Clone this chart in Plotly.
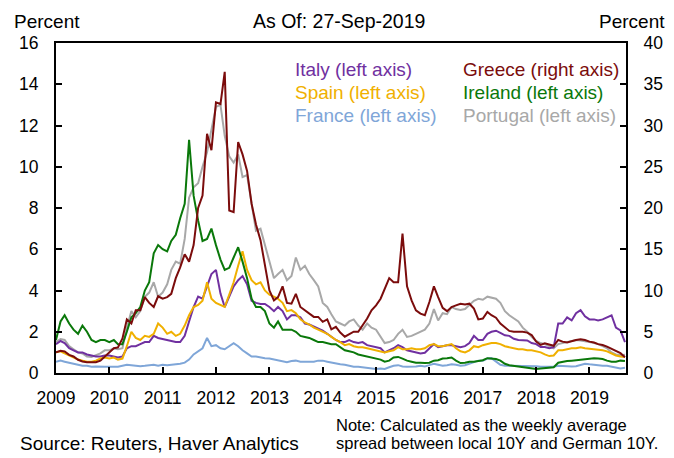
import pandas as pd
import plotly.graph_objects as go

# Monthly readings (first of month), Jan-2009 .. Sep-2019
dates = pd.date_range("2009-01-01", "2019-09-01", freq="MS")

italy = [
    1.4, 1.55, 1.45, 1.2, 1.1, 1.0, 1.0, 0.9, 0.85, 0.8, 0.8, 0.85,
    0.85, 0.8, 0.75, 0.8, 1.2, 1.3, 1.3, 1.4, 1.5, 1.5, 1.8, 1.7,
    1.65, 1.6, 1.55, 1.5, 1.5, 1.8, 2.5, 3.2, 3.7, 3.6, 4.2, 4.8,
    5.0, 3.85, 3.2, 3.7, 4.2, 4.5, 4.7, 4.3, 3.5, 3.4, 3.35, 3.35,
    3.2, 3.0, 3.2, 3.0, 2.6, 2.8, 2.8, 2.7, 2.4, 2.35, 2.25, 2.15,
    2.05, 1.9, 1.75, 1.6, 1.5, 1.5, 1.6, 1.5, 1.45, 1.5, 1.35, 1.3,
    1.25, 1.2, 1.0, 1.1, 1.2, 1.35, 1.25, 1.1, 1.05, 1.0, 0.95, 0.98,
    1.2, 1.4, 1.25, 1.3, 1.35, 1.35, 1.3, 1.25, 1.3, 1.45, 1.8, 1.6,
    1.6, 1.9, 2.0, 2.05, 1.95, 1.83, 1.8, 1.66, 1.6, 1.58, 1.58, 1.45,
    1.4, 1.26, 1.26, 1.2, 1.25, 2.4, 2.4, 2.7, 2.55, 2.9, 3.05, 2.75,
    2.6, 2.6, 2.55, 2.6, 2.7, 2.8, 2.2, 2.07, 1.5,
]

spain = [
    1.0, 1.05, 0.95, 0.85, 0.75, 0.65, 0.6, 0.55, 0.55, 0.6, 0.7, 0.75,
    0.7, 0.75, 0.65, 0.7, 1.3, 2.0, 1.7, 1.6, 1.8, 1.75, 1.9, 2.4,
    2.2, 1.9, 2.0, 1.8, 1.9, 2.3, 2.8, 3.2, 3.3, 3.5, 4.4, 3.6,
    3.4, 3.3, 3.2, 3.8, 4.4, 5.2, 5.9, 5.0, 4.5, 4.3, 4.4, 4.0,
    3.8, 3.7, 3.6, 3.4, 3.0, 3.05, 2.9, 2.6, 2.45, 2.35, 2.2, 2.1,
    2.0, 1.9, 1.75, 1.6, 1.5, 1.35, 1.4, 1.3, 1.25, 1.25, 1.2, 1.15,
    1.1, 1.05, 1.0, 1.05, 1.1, 1.25, 1.15, 1.15, 1.2, 1.15, 1.15, 1.2,
    1.35, 1.4, 1.3, 1.3, 1.35, 1.4, 1.2, 1.05, 1.0, 1.1, 1.3, 1.25,
    1.35, 1.4, 1.45, 1.45, 1.4, 1.3, 1.25, 1.2, 1.15, 1.15, 1.1, 1.1,
    1.05, 1.0, 0.9, 0.82, 0.85, 1.1, 1.1, 1.15, 1.2, 1.2, 1.25, 1.2,
    1.18, 1.15, 1.12, 1.1, 1.05, 0.95, 0.85, 0.8, 0.78,
]

france = [
    0.55, 0.6, 0.55, 0.5, 0.45, 0.4, 0.35, 0.35, 0.3, 0.32, 0.3, 0.3,
    0.3, 0.3, 0.3, 0.35, 0.4, 0.38, 0.35, 0.33, 0.35, 0.38, 0.4, 0.35,
    0.4, 0.38, 0.4, 0.42, 0.45, 0.5, 0.65, 0.9, 1.05, 1.2, 1.7, 1.3,
    1.35, 1.2, 1.15, 1.3, 1.45, 1.3, 1.1, 0.95, 0.8, 0.8, 0.75, 0.72,
    0.7, 0.65, 0.62, 0.55, 0.52, 0.58, 0.6, 0.55, 0.55, 0.58, 0.55, 0.6,
    0.6, 0.55, 0.5, 0.48, 0.42, 0.4, 0.35, 0.3, 0.3, 0.28, 0.25, 0.22,
    0.2, 0.22, 0.2, 0.28, 0.35, 0.38, 0.32, 0.3, 0.3, 0.32, 0.35, 0.32,
    0.38, 0.45, 0.4, 0.35, 0.38, 0.42, 0.4, 0.35, 0.38, 0.45, 0.55, 0.6,
    0.6, 0.7, 0.72, 0.55, 0.4, 0.35, 0.35, 0.35, 0.33, 0.33, 0.33, 0.35,
    0.33, 0.3, 0.3, 0.28, 0.3, 0.35, 0.33, 0.32, 0.32, 0.33, 0.38, 0.45,
    0.42, 0.4, 0.35, 0.35, 0.35, 0.3, 0.25, 0.22, 0.25,
]

ireland = [
    1.6, 2.5, 2.8, 2.4, 2.1, 1.9, 2.3, 2.0, 1.6, 1.5, 1.6, 1.6,
    1.5, 1.6, 1.4, 1.4, 2.0, 2.7, 2.9, 3.2, 4.0, 4.4, 5.8, 6.2,
    6.0, 5.9, 6.4, 6.7, 7.5, 8.2, 11.3, 8.6, 7.4, 6.4, 6.5, 7.0,
    6.2, 5.5, 5.0, 5.1, 5.6, 6.1, 5.4, 4.6, 3.6, 3.2, 3.2, 3.0,
    2.4, 2.2, 2.5, 2.1, 2.1, 2.1, 2.0, 1.8, 1.75, 1.7, 1.6, 1.5,
    1.5, 1.45, 1.4, 1.4, 1.25, 1.1, 1.05, 1.0, 0.9, 0.85, 0.8, 0.75,
    0.7, 0.65, 0.55, 0.6, 0.75, 0.78, 0.7, 0.6, 0.55, 0.5, 0.5, 0.48,
    0.5, 0.6, 0.62, 0.7, 0.72, 0.75, 0.6, 0.48, 0.5, 0.55, 0.55, 0.6,
    0.62, 0.72, 0.7, 0.68, 0.6, 0.45, 0.38, 0.35, 0.3, 0.28, 0.25, 0.22,
    0.2, 0.22, 0.25, 0.25, 0.28, 0.5, 0.55, 0.58, 0.6, 0.62, 0.65, 0.68,
    0.7, 0.72, 0.7, 0.68, 0.6, 0.55, 0.55, 0.6, 0.58,
]

portugal = [
    1.5, 1.65, 1.6, 1.3, 1.15, 1.0, 0.95, 0.8, 0.78, 0.85, 0.95, 1.1,
    1.1, 1.2, 1.15, 1.2, 2.2, 3.0, 2.7, 3.0, 3.7, 3.9, 4.4, 3.7,
    3.9, 4.3, 5.0, 5.4, 5.3, 6.5, 8.5, 9.0, 9.2, 10.0, 10.7, 11.8,
    12.9, 13.0, 11.5, 10.5, 10.2, 10.6, 9.5, 9.6, 8.3, 6.9, 7.0, 6.2,
    5.5, 4.6, 4.8, 5.0, 4.5, 4.7, 5.6, 5.0, 5.2, 4.8, 4.5, 4.2,
    3.4, 3.2, 2.85, 2.5, 2.4, 2.3, 2.5, 2.6, 2.3, 2.1, 2.4, 2.2,
    2.1, 1.75, 1.45, 1.5, 1.6, 1.9, 2.1, 1.75, 1.8, 1.9, 2.0, 2.1,
    2.4, 3.1, 2.55, 2.9, 2.85, 3.2, 3.1, 3.05, 3.1, 3.3, 3.5, 3.6,
    3.55, 3.7, 3.65, 3.6, 3.4, 3.0, 2.8, 2.65, 2.5, 2.2, 2.0, 1.75,
    1.55, 1.45, 1.4, 1.3, 1.2, 1.4, 1.45, 1.5, 1.55, 1.6, 1.58, 1.55,
    1.5, 1.45, 1.4, 1.3, 1.2, 1.0, 0.9, 0.86, 0.88,
]

greece = [
    2.5, 2.7, 2.6, 2.2, 2.0, 1.6, 1.4, 1.3, 1.3, 1.3, 1.5, 2.0,
    2.6, 3.0, 3.1, 4.2, 6.5, 6.0, 7.6, 7.6, 9.2, 8.5, 8.0, 9.3,
    9.0, 9.2, 9.6, 11.5, 12.8, 14.4, 13.5, 15.5, 20.0, 21.5, 29.0, 27.0,
    32.8, 32.6, 36.5, 19.7, 19.5, 28.0, 26.5, 24.5, 20.5, 18.0, 16.1, 13.0,
    10.0, 8.8, 9.2, 10.5, 8.5, 8.4, 9.6, 8.0, 7.6, 7.2, 6.8, 6.8,
    6.2, 6.5, 5.3, 5.6, 4.9, 4.4, 4.7, 5.0, 5.0, 5.8, 6.6, 7.6,
    8.2, 9.0, 10.2, 11.5, 11.0, 11.0, 16.9, 10.5, 8.8, 7.6, 7.2, 7.0,
    8.6, 10.5, 9.2, 7.9, 7.5, 8.0, 8.2, 8.4, 8.3, 8.4, 7.8, 6.5,
    6.6, 7.4, 7.0, 6.7, 6.0, 5.5, 5.1, 5.0, 5.0, 5.0, 4.9, 4.6,
    3.8, 3.4, 3.6, 3.4, 3.3, 4.0, 3.8, 3.7, 3.9, 4.0, 4.1, 4.0,
    3.8, 3.7, 3.5, 3.4, 3.2, 2.9, 2.6, 2.4, 1.9,
]

year_ticks = [str(y) for y in range(2009, 2020)]
left_ticks = list(range(0, 17, 2))
right_ticks = list(range(0, 41, 5))

C_ITALY = "#7030A0"
C_SPAIN = "#F0B000"
C_FRANCE = "#7FA6D8"
C_GREECE = "#7B0C0C"
C_IRELAND = "#0A780A"
C_PORTUGAL = "#A8A8A8"

fig = go.Figure()
series = [
    ("Portugal", portugal, C_PORTUGAL, "y"),
    ("Italy", italy, C_ITALY, "y"),
    ("Spain", spain, C_SPAIN, "y"),
    ("France", france, C_FRANCE, "y"),
    ("Ireland", ireland, C_IRELAND, "y"),
    ("Greece", greece, C_GREECE, "y2"),
]
for name, vals, col, ax in series:
    fig.add_trace(go.Scatter(x=dates, y=vals, name=name, mode="lines",
                             line=dict(color=col, width=2), yaxis=ax))

L, R, T, B = 56, 626, 42.7, 372.7
W, H = 674, 458


def px(x):
    return (x - L) / (R - L)


def py(y):
    return (B - y) / (B - T)


FONT = "Liberation Sans, Arial, sans-serif"
ann = []


def text(s, x, y, xa="left", size=17, color="black"):
    ann.append(dict(text=s, x=px(x), y=py(y), xref="paper", yref="paper",
                    xanchor=xa, yanchor="middle", showarrow=False,
                    font=dict(family=FONT, size=size, color=color)))


text("Percent", 12, 21, size=19)
text("Percent", 667, 21, xa="right", size=19)
text("As Of: 27-Sep-2019", 339, 21, xa="center", size=19.5)
text("Italy (left axis)", 293, 69, size=19, color=C_ITALY)
text("Spain (left axis)", 293, 92, size=19, color=C_SPAIN)
text("France (left axis)", 293, 115, size=19, color=C_FRANCE)
text("Greece (right axis)", 461, 69, size=19, color=C_GREECE)
text("Ireland (left axis)", 461, 92, size=19, color=C_IRELAND)
text("Portugal (left axis)", 461, 115, size=19, color=C_PORTUGAL)
text("Source: Reuters, Haver Analytics", 18, 443, size=19)
text("Note: Calculated as the weekly average", 334, 425, size=16.5)
text("spread between local 10Y and German 10Y.", 334, 443, size=16.5)

axis_common = dict(showgrid=False, zeroline=False, ticks="inside", ticklen=6,
                   tickwidth=1.5, tickcolor="black", showline=True,
                   linecolor="black", linewidth=2,
                   tickfont=dict(family=FONT, size=17.5, color="black"))

fig.update_layout(
    width=W, height=H,
    margin=dict(l=L, r=W - R, t=T, b=H - B),
    plot_bgcolor="white", paper_bgcolor="white",
    showlegend=False,
    annotations=ann,
    xaxis=dict(type="date", range=["2009-01-01", "2019-09-08"],
               tickvals=[f"{y}-01-01" for y in year_ticks], ticktext=year_ticks,
               mirror=True, ticklabelstandoff=8, **axis_common),
    yaxis=dict(range=[0, 16], tickvals=left_ticks, mirror=True,
               ticklabelstandoff=12, **axis_common),
    yaxis2=dict(range=[0, 40], tickvals=right_ticks, overlaying="y",
                side="right", ticklabelstandoff=12, **axis_common),
)

fig.write_html("out.html",
               config={"displayModeBar": False},
               post_script="document.body.style.margin='0';"
                           "document.body.style.overflow='hidden';")
